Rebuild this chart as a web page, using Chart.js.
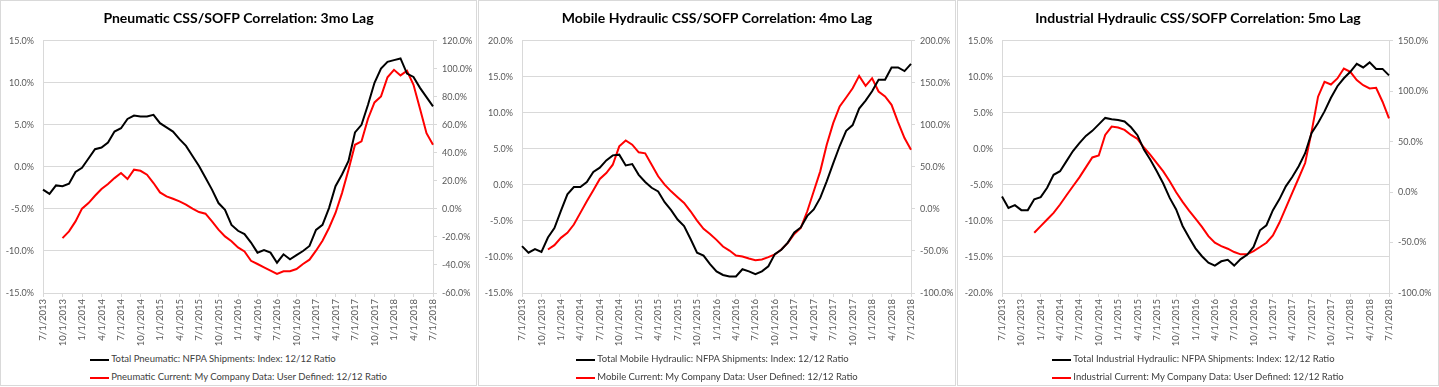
<!DOCTYPE html>
<html>
<head>
<meta charset="utf-8">
<script src="https://cdn.jsdelivr.net/npm/chart.js@4.4.1/dist/chart.umd.min.js"></script>
<style>
  body { margin: 0; background: #fff; width: 1439px; height: 387px; overflow: hidden; position: relative; font-family: Lato, sans-serif; }
  .panel { position: absolute; top: 0; height: 387px; }
  .panel canvas { position: absolute; left: 0; top: 0; }
  .frame { position: absolute; left: 0; top: 0; width: 100%; height: 386px; border: 1px solid #d9d9d9; box-sizing: border-box; pointer-events: none; }
  .legend { position: absolute; top: 350px; left: 0; right: 0; display: flex; justify-content: center; }
  .legend ul { list-style: none; margin: 0; padding: 0; }
  .legend li { height: 18px; line-height: 18px; font-size: 9.5px; color: #404040; white-space: nowrap; }
  .legend .swatch { display: inline-block; width: 19px; height: 0; border-top: 2px solid; vertical-align: middle; margin-right: 2px; }
</style>
</head>
<body>
<div class="panel" id="p1" style="left:0;width:477px"><canvas id="c1" width="477" height="346"></canvas><div class="legend"><ul id="l1"></ul></div><div class="frame"></div></div>
<div class="panel" id="p2" style="left:478px;width:478px"><canvas id="c2" width="478" height="346"></canvas><div class="legend"><ul id="l2"></ul></div><div class="frame"></div></div>
<div class="panel" id="p3" style="left:957px;width:482px"><canvas id="c3" width="482" height="346"></canvas><div class="legend"><ul id="l3"></ul></div><div class="frame"></div></div>
<script>
'use strict';

// monthly categories, 7/2013 .. 7/2018
const months = [
  '7/1/2013','8/1/2013','9/1/2013','10/1/2013','11/1/2013','12/1/2013',
  '1/1/2014','2/1/2014','3/1/2014','4/1/2014','5/1/2014','6/1/2014','7/1/2014','8/1/2014','9/1/2014','10/1/2014','11/1/2014','12/1/2014',
  '1/1/2015','2/1/2015','3/1/2015','4/1/2015','5/1/2015','6/1/2015','7/1/2015','8/1/2015','9/1/2015','10/1/2015','11/1/2015','12/1/2015',
  '1/1/2016','2/1/2016','3/1/2016','4/1/2016','5/1/2016','6/1/2016','7/1/2016','8/1/2016','9/1/2016','10/1/2016','11/1/2016','12/1/2016',
  '1/1/2017','2/1/2017','3/1/2017','4/1/2017','5/1/2017','6/1/2017','7/1/2017','8/1/2017','9/1/2017','10/1/2017','11/1/2017','12/1/2017',
  '1/1/2018','2/1/2018','3/1/2018','4/1/2018','5/1/2018','6/1/2018','7/1/2018'
];

// values in percent
const pneumaticTotal = [
  -2.7,-3.2,-2.2,-2.3,-2.0,-0.6,-0.1,1.0,2.1,2.3,
  2.9,4.2,4.6,5.7,6.1,6.0,6.0,6.2,5.2,4.7,
  4.2,3.3,2.5,1.3,0.1,-1.3,-2.7,-4.3,-5.1,-6.9,
  -7.6,-8.0,-9.0,-10.2,-9.9,-10.2,-11.4,-10.4,-11.0,-10.5,
  -10.0,-9.4,-7.5,-6.9,-4.9,-2.3,-0.9,0.7,4.1,5.0,
  7.4,10.0,11.7,12.5,12.7,12.9,11.1,10.7,9.4,8.3,7.2
];
const pneumaticCurrent = [
  null,null,null,
  -20.8,-16.0,-8.9,0.2,4.2,9.4,14.2,17.8,22.0,25.6,
  21.3,28.0,27.2,24.4,18.5,11.8,9.0,7.3,5.4,3.0,
  0.2,-2.2,-3.4,-8.9,-14.8,-19.6,-23.1,-27.5,-30.3,-37.0,
  -39.3,-41.7,-44.1,-46.4,-44.5,-44.5,-42.9,-39.3,-36.2,-29.8,
  -22.7,-13.6,-2.9,11.3,28.0,45.8,48.2,64.4,76.0,80.3,
  94.0,99.3,95.3,98.6,88.6,71.5,54.1,45.8
];

const mobileTotal = [
  -8.5,-9.4,-8.9,-9.3,-7.3,-6.0,-3.6,-1.3,-0.3,-0.3,
  0.4,1.8,2.4,3.4,4.1,4.2,2.7,2.9,1.4,0.4,
  -0.4,-0.9,-2.4,-3.5,-4.8,-5.7,-7.5,-9.4,-9.8,-11.0,
  -12.0,-12.5,-12.7,-12.7,-11.7,-12.0,-12.4,-12.0,-11.3,-9.6,
  -9.0,-8.0,-6.6,-5.9,-4.3,-3.4,-1.8,0.5,3.0,5.4,
  7.5,8.3,10.6,11.7,13.0,14.6,14.6,16.3,16.3,15.8,16.8
];
const mobileCurrent = [
  null,null,null,null,
  -48.3,-43.1,-34.4,-28.5,-18.6,-4.7,9.1,22.2,35.6,42.7,
  52.6,74.4,81.5,76.4,67.3,66.1,52.6,38.8,28.9,20.9,
  13.9,7.1,-2.8,-13.9,-23.7,-29.7,-36.8,-44.7,-49.5,-55.4,
  -56.6,-59.0,-60.9,-60.1,-57.4,-54.2,-48.3,-40.4,-29.7,-22.6,
  -2.8,21.0,44.7,76.4,102.0,121.9,132.6,143.6,158.3,146.4,
  155.5,139.7,133.8,123.9,103.3,84.3,70.4
];

const industrialTotal = [
  -6.6,-8.2,-7.8,-8.5,-8.5,-7.0,-6.7,-5.4,-3.6,-3.1,
  -1.7,-0.3,0.8,1.8,2.5,3.4,4.3,4.1,4.0,3.8,
  3.0,1.9,-0.1,-1.5,-3.1,-4.8,-6.8,-8.4,-10.7,-12.3,
  -13.8,-14.9,-15.8,-16.2,-15.6,-15.4,-16.2,-15.3,-14.7,-13.6,
  -11.3,-10.6,-8.5,-7.0,-5.2,-3.9,-2.4,-0.6,2.2,3.6,
  5.2,7.1,8.7,9.8,10.7,11.8,11.3,12.0,11.1,11.1,10.2
];
const industrialCurrent = [
  null,null,null,null,null,
  -40.3,-33.7,-27.1,-20.6,-12.3,-3.1,5.8,14.6,24.5,34.4,
  36.3,56.7,65.0,64.0,61.7,56.7,52.8,44.2,37.0,28.8,
  20.6,10.7,-0.2,-9.7,-18.3,-26.3,-34.5,-43.6,-50.2,-53.5,
  -56.1,-59.4,-61.7,-61.7,-58.4,-54.4,-50.2,-42.9,-30.4,-15.6,
  -0.8,14.0,28.8,60.0,94.6,109.4,106.7,112.7,122.5,119.2,
  111.0,106.0,102.8,103.5,89.6,73.2
];

Chart.defaults.font.family = 'Lato, sans-serif';
Chart.defaults.font.size = 9;
Chart.defaults.color = '#595959';

const GRID = '#d9d9d9';
const pct = v => v.toFixed(1) + '%';

function makePanel(o) {
  const chart = new Chart(document.getElementById(o.canvas), {
    type: 'line',
    data: {
      labels: months,
      datasets: [
        { label: o.totalLabel, data: o.total, borderColor: '#000000', yAxisID: 'y' },
        { label: o.currentLabel, data: o.current, borderColor: '#ff0000', yAxisID: 'y2' }
      ]
    },
    options: {
      responsive: false,
      animation: false,
      elements: { point: { radius: 0 }, line: { borderWidth: 2, tension: 0 } },
      layout: { padding: 0 },
      plugins: {
        legend: { display: false },
        tooltip: { enabled: false },
        title: {
          display: true,
          text: o.title,
          color: '#000000',
          font: { size: 14, weight: 'bold' },
          padding: { top: 10, bottom: 14 }
        }
      },
      scales: {
        x: {
          grid: {
            drawOnChartArea: false,
            tickLength: 4,
            color: ctx => (ctx.index % 3 === 0 ? GRID : 'rgba(0,0,0,0)')
          },
          border: { color: GRID },
          ticks: {
            autoSkip: false,
            minRotation: 90,
            maxRotation: 90,
            padding: 2,
            font: { size: 9.5 },
            callback: (v, i) => (i % 3 === 0 ? months[i] : '')
          },
          afterFit: s => { s.height = 346 - 293; }
        },
        y: {
          position: 'left',
          min: o.yMin, max: o.yMax,
          ticks: { stepSize: o.yStep, callback: pct, padding: 9 },
          grid: { color: GRID, drawTicks: false },
          border: { color: GRID },
          afterFit: s => { s.width = o.leftW; }
        },
        y2: {
          position: 'right',
          min: o.y2Min, max: o.y2Max,
          ticks: { stepSize: o.y2Step, callback: pct, padding: 5 },
          grid: { drawOnChartArea: false, tickLength: 4, color: GRID },
          border: { color: GRID },
          afterFit: s => { s.width = o.rightW; }
        }
      }
    }
  });

  const ul = document.getElementById(o.legend);
  chart.data.datasets.forEach(ds => {
    const li = document.createElement('li');
    const sw = document.createElement('span');
    sw.className = 'swatch';
    sw.style.borderTopColor = ds.borderColor;
    li.appendChild(sw);
    li.appendChild(document.createTextNode(ds.label));
    ul.appendChild(li);
  });
  return chart;
}

makePanel({
  canvas: 'c1', legend: 'l1', leftW: 43, rightW: 44,
  title: 'Pneumatic CSS/SOFP Correlation: 3mo Lag',
  totalLabel: 'Total Pneumatic: NFPA Shipments: Index: 12/12 Ratio',
  currentLabel: 'Pneumatic Current: My Company Data: User Defined: 12/12 Ratio',
  total: pneumaticTotal, current: pneumaticCurrent,
  yMin: -15, yMax: 15, yStep: 5, y2Min: -60, y2Max: 120, y2Step: 20
});

makePanel({
  canvas: 'c2', legend: 'l2', leftW: 44, rightW: 45,
  title: 'Mobile Hydraulic CSS/SOFP Correlation: 4mo Lag',
  totalLabel: 'Total Mobile Hydraulic: NFPA Shipments: Index: 12/12 Ratio',
  currentLabel: 'Mobile Current: My Company Data: User Defined: 12/12 Ratio',
  total: mobileTotal, current: mobileCurrent,
  yMin: -15, yMax: 20, yStep: 5, y2Min: -100, y2Max: 200, y2Step: 50
});

makePanel({
  canvas: 'c3', legend: 'l3', leftW: 45, rightW: 50,
  title: 'Industrial Hydraulic CSS/SOFP Correlation: 5mo Lag',
  totalLabel: 'Total Industrial Hydraulic: NFPA Shipments: Index: 12/12 Ratio',
  currentLabel: 'Industrial Current: My Company Data: User Defined: 12/12 Ratio',
  total: industrialTotal, current: industrialCurrent,
  yMin: -20, yMax: 15, yStep: 5, y2Min: -100, y2Max: 150, y2Step: 50
});
</script>
</body>
</html>
